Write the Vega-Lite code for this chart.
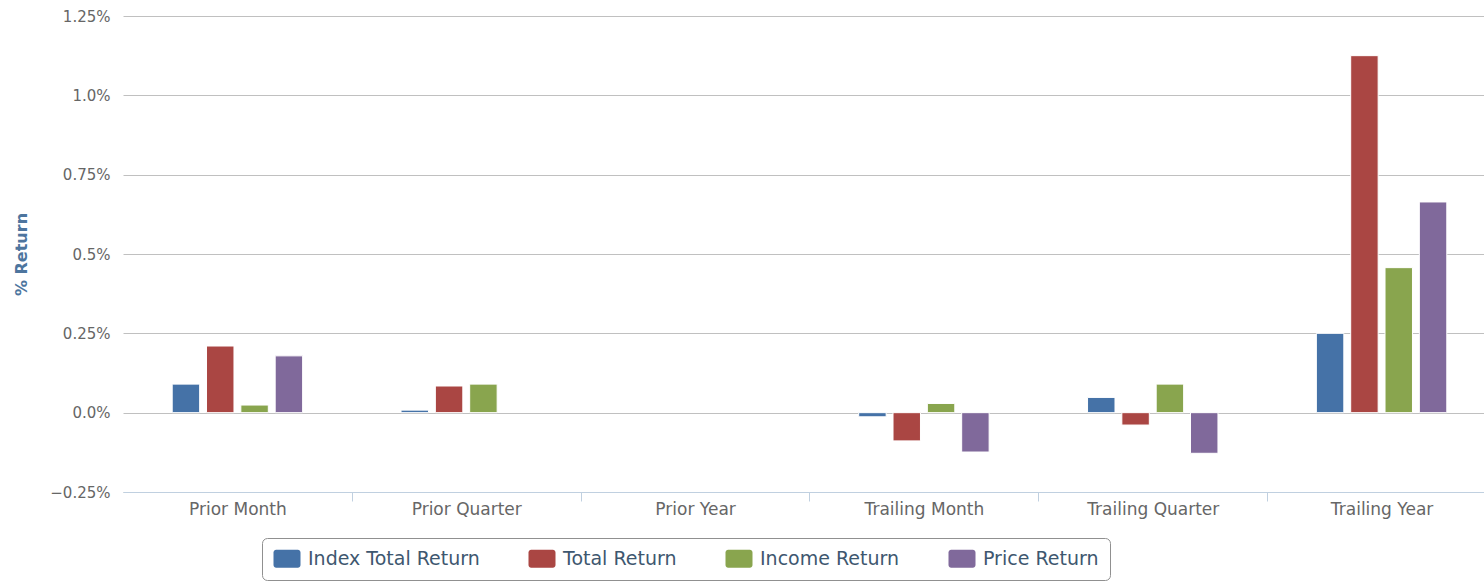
{
  "$schema": "https://vega.github.io/schema/vega-lite/v6.json",
  "width": 1373,
  "height": 476,
  "autosize": {"type": "none"},
  "padding": {"left": 123, "top": 16, "right": 0, "bottom": 89},
  "background": "white",
  "config": {"view": {"stroke": null}, "font": "DejaVu Sans"},
  "data": {
    "values": [
      {"period": "Prior Month", "series": "Index Total Return", "value": 0.09},
      {"period": "Prior Month", "series": "Total Return", "value": 0.21},
      {"period": "Prior Month", "series": "Income Return", "value": 0.024},
      {"period": "Prior Month", "series": "Price Return", "value": 0.179},
      {"period": "Prior Quarter", "series": "Index Total Return", "value": 0.008},
      {"period": "Prior Quarter", "series": "Total Return", "value": 0.084},
      {"period": "Prior Quarter", "series": "Income Return", "value": 0.09},
      {"period": "Trailing Month", "series": "Index Total Return", "value": -0.013},
      {"period": "Trailing Month", "series": "Total Return", "value": -0.089},
      {"period": "Trailing Month", "series": "Income Return", "value": 0.029},
      {"period": "Trailing Month", "series": "Price Return", "value": -0.124},
      {"period": "Trailing Quarter", "series": "Index Total Return", "value": 0.048},
      {"period": "Trailing Quarter", "series": "Total Return", "value": -0.039},
      {"period": "Trailing Quarter", "series": "Income Return", "value": 0.09},
      {"period": "Trailing Quarter", "series": "Price Return", "value": -0.128},
      {"period": "Trailing Year", "series": "Index Total Return", "value": 0.25},
      {"period": "Trailing Year", "series": "Total Return", "value": 1.125},
      {"period": "Trailing Year", "series": "Income Return", "value": 0.457},
      {"period": "Trailing Year", "series": "Price Return", "value": 0.664}
    ]
  },
  "mark": {"type": "bar", "stroke": "white", "strokeWidth": 1},
  "encoding": {
    "x": {
      "field": "period",
      "type": "nominal",
      "scale": {
        "domain": ["Prior Month", "Prior Quarter", "Prior Year", "Trailing Month", "Trailing Quarter", "Trailing Year"],
        "paddingInner": 0.43,
        "paddingOuter": 0.215
      },
      "axis": {
        "title": null,
        "labelAngle": 0,
        "labelFontSize": 17,
        "labelColor": "#666666",
        "domainColor": "#C0D0E0",
        "tickColor": "#C0D0E0",
        "tickSize": 9,
        "tickOffset": 114.4,
        "labelOffset": -114.4,
        "labelPadding": 0,
        "grid": false,
        "zindex": 1
      }
    },
    "xOffset": {
      "field": "series",
      "type": "nominal",
      "scale": {
        "domain": ["Index Total Return", "Total Return", "Income Return", "Price Return"],
        "paddingInner": 0.2,
        "paddingOuter": 0
      }
    },
    "y": {
      "field": "value",
      "type": "quantitative",
      "scale": {"domain": [-0.25, 1.25], "nice": false, "zero": false},
      "axis": {
        "title": "% Return",
        "titleFontSize": 16,
        "titleFontWeight": "bold",
        "titleColor": "#4d759e",
        "titlePadding": 20,
        "values": [-0.25, 0, 0.25, 0.5, 0.75, 1, 1.25],
        "labelExpr": "format(datum.value, (datum.value * 4) % 2 == 0 ? '.1f' : '.2f') + '%'",
        "labelFontSize": 15,
        "labelColor": "#666666",
        "labelPadding": 13,
        "ticks": false,
        "tickSize": 0,
        "domain": false,
        "grid": true,
        "gridColor": "#C0C0C0",
        "gridWidth": 1
      }
    },
    "color": {
      "field": "series",
      "type": "nominal",
      "scale": {
        "domain": ["Index Total Return", "Total Return", "Income Return", "Price Return"],
        "range": ["#4572A7", "#AA4643", "#89A54E", "#80699B"]
      },
      "legend": {
        "orient": "none",
        "legendX": 139,
        "legendY": 522,
        "direction": "horizontal",
        "title": null,
        "strokeColor": "#909090",
        "fillColor": "white",
        "cornerRadius": 5,
        "padding": 11,
        "symbolType": "M-0.7,-1L1.7,-1A0.3,0.3,0,0,1,2,-0.7L2,0.7A0.3,0.3,0,0,1,1.7,1L-0.7,1A0.3,0.3,0,0,1,-1,0.7L-1,-0.7A0.3,0.3,0,0,1,-0.7,-1Z",
        "symbolSize": 324,
        "symbolStrokeWidth": 0,
        "symbolOpacity": 1,
        "labelFontSize": 19,
        "labelColor": "#3E576F",
        "labelOffset": 16,
        "columnPadding": 48,
        "labelLimit": 400
      }
    }
  }
}
